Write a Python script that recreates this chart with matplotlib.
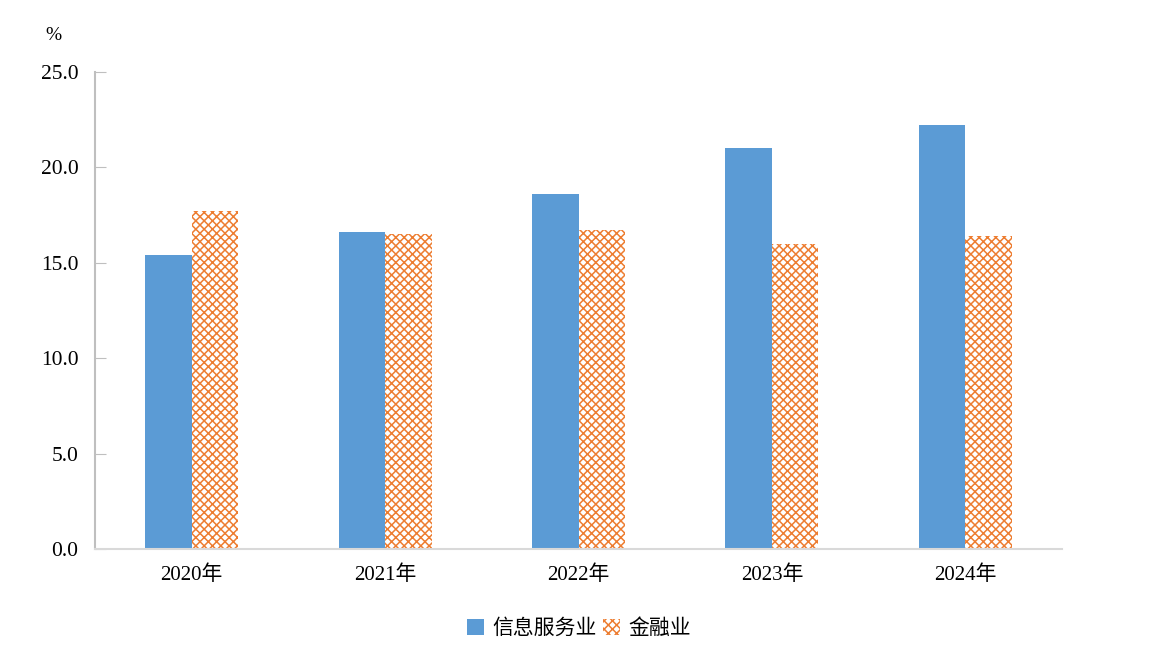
import matplotlib.pyplot as plt
import numpy as np

plt.rcParams['font.family'] = ['Liberation Serif', 'Noto Sans CJK SC']
plt.rcParams['hatch.linewidth'] = 1.1

years = ["2020年", "2021年", "2022年", "2023年", "2024年"]
info_service = [15.4, 16.6, 18.6, 21.0, 22.2]
finance = [17.7, 16.5, 16.7, 16.0, 16.4]
y_ticks = [0.0, 5.0, 10.0, 15.0, 20.0, 25.0]

blue = '#5B9BD5'
orange = '#ED7D31'

fig = plt.figure(figsize=(11.58, 6.62), dpi=100)
ax = fig.add_axes([95 / 1158, 1 - 549 / 662, (1062 - 95) / 1158, (549 - 72) / 662])

x = np.arange(len(years))
w = 0.24
ax.bar(x - w / 2, info_service, width=w, color=blue, label='信息服务业')
ax.bar(x + w / 2, finance, width=w, color='white', edgecolor=orange,
       hatch='xxxx', linewidth=0, label='金融业')

ax.set_xlim(-0.5, len(years) - 0.5)
ax.set_ylim(0, 25)
ax.set_yticks(y_ticks)
ax.set_yticklabels([f"{v:.1f}" for v in y_ticks], fontsize=15.5)
ax.set_xticks(x)
ax.set_xticklabels(years, fontsize=15)

ax.tick_params(axis='y', direction='in', length=8, color='#BFBFBF', pad=12)
ax.tick_params(axis='x', length=0, pad=12)
for s in ['top', 'right']:
    ax.spines[s].set_visible(False)
ax.spines['left'].set_color('#BFBFBF')
ax.spines['left'].set_linewidth(1.5)
ax.spines['bottom'].set_color('#D9D9D9')
ax.spines['bottom'].set_linewidth(1.5)

fig.text(53 / 1158, 1 - 36 / 662, '%', fontsize=14, ha='center', va='center')

leg = fig.legend(loc='center', bbox_to_anchor=(0.5, 1 - 628 / 662), ncol=2,
                 frameon=False, handlelength=0.8, handleheight=0.8,
                 handletextpad=0.4, columnspacing=0.3,
                 prop={'family': ['Noto Sans CJK SC'], 'size': 15})

fig.savefig('out.png', dpi=100)
